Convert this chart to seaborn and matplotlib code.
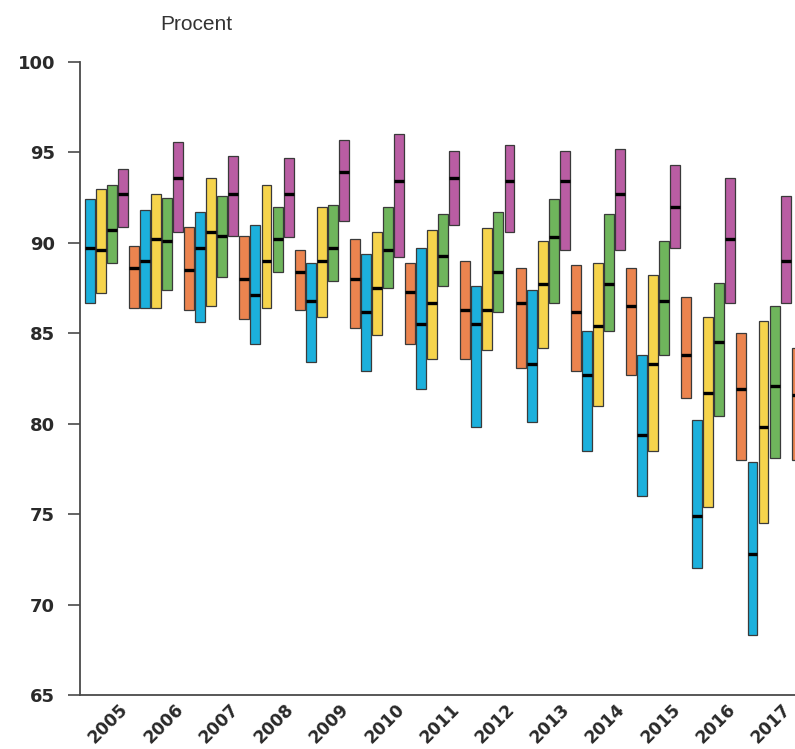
import matplotlib
matplotlib.use("Agg")
import matplotlib.pyplot as plt
import numpy as np
import pandas as pd
import seaborn as sns

# Data (percent); each series: low, high, median per year
years = [2005, 2006, 2007, 2008, 2009, 2010, 2011, 2012, 2013, 2014, 2015, 2016, 2017]
series = ["blue", "yellow", "green", "purple", "orange"]

blue_low = [86.7, 86.4, 85.6, 84.4, 83.4, 82.9, 81.9, 79.8, 80.1, 78.5, 76.0, 72.0, 68.3]
blue_high = [92.4, 91.8, 91.7, 91.0, 88.9, 89.4, 89.7, 87.6, 87.4, 85.1, 83.8, 80.2, 77.9]
blue_med = [89.7, 89.0, 89.7, 87.1, 86.8, 86.2, 85.5, 85.5, 83.3, 82.7, 79.4, 74.9, 72.8]

yellow_low = [87.2, 86.4, 86.5, 86.4, 85.9, 84.9, 83.6, 84.1, 84.2, 81.0, 78.5, 75.4, 74.5]
yellow_high = [93.0, 92.7, 93.6, 93.2, 92.0, 90.6, 90.7, 90.8, 90.1, 88.9, 88.2, 85.9, 85.7]
yellow_med = [89.6, 90.2, 90.6, 89.0, 89.0, 87.5, 86.7, 86.3, 87.7, 85.4, 83.3, 81.7, 79.8]

green_low = [88.9, 87.4, 88.1, 88.4, 87.9, 87.5, 87.6, 86.2, 86.7, 85.1, 83.8, 80.4, 78.1]
green_high = [93.2, 92.5, 92.6, 92.0, 92.1, 92.0, 91.6, 91.7, 92.4, 91.6, 90.1, 87.8, 86.5]
green_med = [90.7, 90.1, 90.4, 90.2, 89.7, 89.6, 89.3, 88.4, 90.3, 87.7, 86.8, 84.5, 82.1]

purple_low = [90.9, 90.6, 90.4, 90.3, 91.2, 89.2, 91.0, 90.6, 89.6, 89.6, 89.7, 86.7, 86.7]
purple_high = [94.1, 95.6, 94.8, 94.7, 95.7, 96.0, 95.1, 95.4, 95.1, 95.2, 94.3, 93.6, 92.6]
purple_med = [92.7, 93.6, 92.7, 92.7, 93.9, 93.4, 93.6, 93.4, 93.4, 92.7, 92.0, 90.2, 89.0]

orange_low = [86.4, 86.3, 85.8, 86.3, 85.3, 84.4, 83.6, 83.1, 82.9, 82.7, 81.4, 78.0, 78.0]
orange_high = [89.8, 90.9, 90.4, 89.6, 90.2, 88.9, 89.0, 88.6, 88.8, 88.6, 87.0, 85.0, 84.2]
orange_med = [88.6, 88.5, 88.0, 88.4, 88.0, 87.3, 86.3, 86.7, 86.2, 86.5, 83.8, 81.9, 81.6]

colors = {
    "blue": "#1cb0dc",
    "yellow": "#f6d44c",
    "green": "#6fb55c",
    "purple": "#b95da3",
    "orange": "#eb844f",
}

rows = []
for name, lo, hi, med in [
    ("blue", blue_low, blue_high, blue_med),
    ("yellow", yellow_low, yellow_high, yellow_med),
    ("green", green_low, green_high, green_med),
    ("purple", purple_low, purple_high, purple_med),
    ("orange", orange_low, orange_high, orange_med),
]:
    for y, a, b, m in zip(years, lo, hi, med):
        rows.append({"year": y, "series": name, "low": a, "high": b, "median": m})
df = pd.DataFrame(rows)

sns.set_style("white")
plt.rcParams["font.family"] = ["Liberation Sans", "DejaVu Sans"]

fig = plt.figure(figsize=(7.95, 7.49), dpi=100)
ax = fig.add_axes([80 / 795, 54 / 749, 715 / 795, 633 / 749])

slot = 0.2
width = 0.18
offsets = {name: (i - 2) * slot for i, name in enumerate(series)}
df["x"] = df["year"] - years[0] + df["series"].map(offsets)

for name, grp in df.groupby("series", sort=False):
    ax.bar(grp["x"], grp["high"] - grp["low"], bottom=grp["low"], width=width,
           color=colors[name], edgecolor="#3a3a3a", linewidth=0.9, zorder=2)
    ax.hlines(grp["median"], grp["x"] - width / 2, grp["x"] + width / 2,
              color="black", linewidth=2.4, zorder=3)

ax.set_ylim(65, 100)
ax.set_xlim(-0.577, 12.37)
ax.set_yticks(np.arange(65, 101, 5))
ax.set_xticks(np.arange(len(years)) + 0.36)
ax.set_xticklabels(years, rotation=45, ha="right", va="top")

for lab in ax.get_yticklabels():
    lab.set_family("DejaVu Sans")
    lab.set_fontsize(13)
    lab.set_fontweight("bold")
    lab.set_color("#2a2a2a")
for lab in ax.get_xticklabels():
    lab.set_family("DejaVu Sans")
    lab.set_fontsize(12.3)
    lab.set_fontweight("bold")
    lab.set_color("#2a2a2a")

ax.tick_params(axis="y", direction="out", length=9, width=1.2, color="#4a4a4a",
               pad=9, left=True)
ax.tick_params(axis="x", length=0, pad=4)

sns.despine(ax=ax, top=True, right=True)
for side in ["left", "bottom"]:
    ax.spines[side].set_color("#4a4a4a")
    ax.spines[side].set_linewidth(1.3)

fig.text(160 / 795, 1 - 25 / 749, "Procent", fontsize=15, color="#333333",
         ha="left", va="center")

fig.savefig("out.png", dpi=100)
